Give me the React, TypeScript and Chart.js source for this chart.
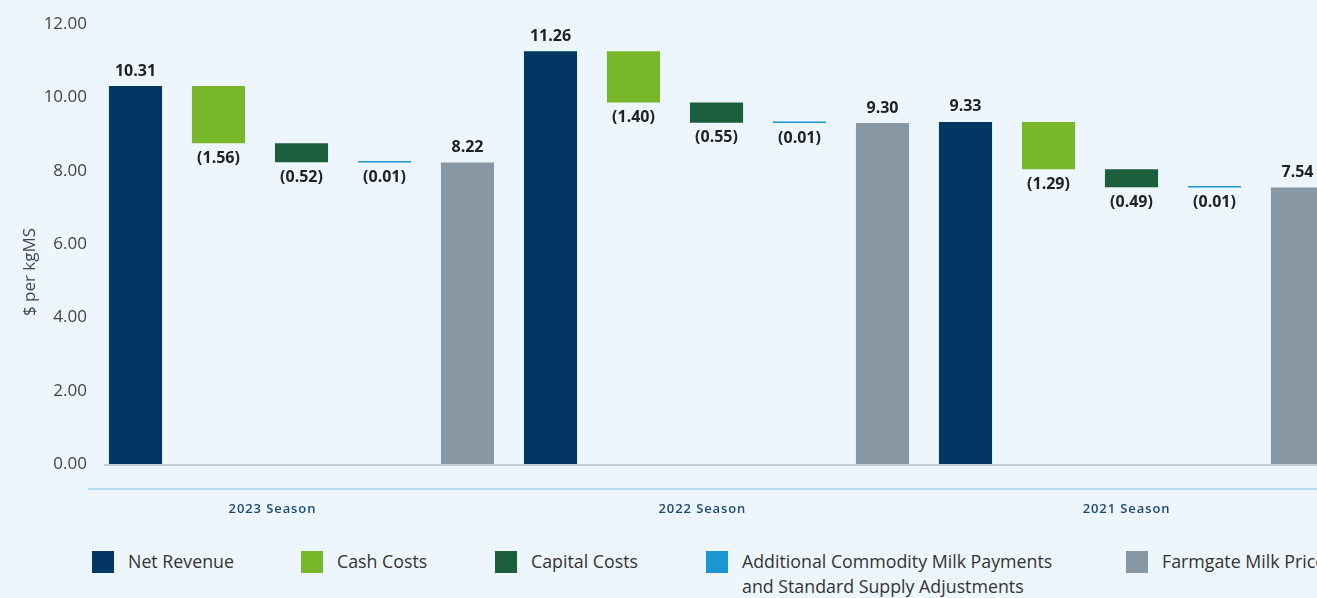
import React, { useEffect, useRef } from "react";
import { Chart, registerables } from "chart.js";

Chart.register(...registerables);

const seasons = ["2023 Season", "2022 Season", "2021 Season"];
const components = [
  "Net Revenue",
  "Cash Costs",
  "Capital Costs",
  "Additional Commodity Milk Payments\nand Standard Supply Adjustments",
  "Farmgate Milk Price",
];
const netRevenue = [10.31, 11.26, 9.33];
const cashCosts = [-1.56, -1.4, -1.29];
const capitalCosts = [-0.52, -0.55, -0.49];
const additionalPayments = [-0.01, -0.01, -0.01];
const farmgateMilkPrice = [8.22, 9.3, 7.54];
const yTicks = [0, 2, 4, 6, 8, 10, 12];

const colors = ["#023764", "#78b72a", "#1b5e3b", "#1b96d2", "#8798a4"];
const FONT = "'Open Sans', 'Noto Sans', sans-serif";

type Bar = { label: string; range: [number, number]; value: number; kind: number };

function buildBars(): Bar[] {
  const out: Bar[] = [];
  seasons.forEach((s, i) => {
    let run = netRevenue[i];
    out.push({ label: s + " " + components[0], range: [0, run], value: netRevenue[i], kind: 0 });
    const steps = [cashCosts[i], capitalCosts[i], additionalPayments[i]];
    steps.forEach((v, k) => {
      const next = run + v;
      out.push({ label: s + " " + components[k + 1], range: [run, next], value: v, kind: k + 1 });
      run = next;
    });
    out.push({ label: s + " " + components[4], range: [0, farmgateMilkPrice[i]], value: farmgateMilkPrice[i], kind: 4 });
  });
  return out;
}

const decorPlugin = {
  id: "decor",
  beforeDatasetsDraw(chart: any) {
    const { ctx, chartArea, scales } = chart;
    const y0 = scales.y.getPixelForValue(0);
    ctx.save();
    ctx.strokeStyle = "#c7cdd3";
    ctx.lineWidth = 2;
    ctx.beginPath();
    ctx.moveTo(chartArea.left + 10, y0 + 1);
    ctx.lineTo(chart.width, y0 + 1);
    ctx.stroke();
    ctx.restore();
  },
  afterDraw(chart: any) {
    const { ctx, chartArea, scales } = chart;
    ctx.save();
    // category axis line
    ctx.strokeStyle = "#b5dcf0";
    ctx.lineWidth = 2;
    ctx.beginPath();
    ctx.moveTo(chartArea.left - 6, chartArea.bottom + 25);
    ctx.lineTo(chart.width, chartArea.bottom + 25);
    ctx.stroke();
    // season labels
    const seasonPos = [1.65, 6.83, 11.94];
    ctx.fillStyle = "#1d4a72";
    ctx.font = `600 13px ${FONT}`;
    (ctx as any).letterSpacing = "0.9px";
    ctx.textAlign = "center";
    ctx.textBaseline = "middle";
    seasons.forEach((s, i) => {
      ctx.fillText(s, scales.x.getPixelForValue(seasonPos[i]), chartArea.bottom + 45);
    });
    (ctx as any).letterSpacing = "0px";
    // y title
    ctx.translate(30, 272);
    ctx.rotate(-Math.PI / 2);
    ctx.fillStyle = "#444";
    ctx.font = `17px ${FONT}`;
    ctx.fillText("$ per kgMS", 0, 0);
    ctx.restore();
  },
};

const labelPlugin = {
  id: "barLabels",
  afterDatasetsDraw(chart: any) {
    const { ctx } = chart;
    const bars: Bar[] = chart.config.options.plugins.barLabels.bars;
    const meta = chart.getDatasetMeta(0);
    ctx.save();
    ctx.fillStyle = "#222";
    ctx.font = `bold 16px ${FONT}`;
    ctx.textAlign = "center";
    ctx.textBaseline = "middle";
    meta.data.forEach((el: any, i: number) => {
      const b = bars[i];
      const top = Math.min(el.y, el.base);
      const bottom = Math.max(el.y, el.base);
      if (b.value >= 0) {
        ctx.fillText(b.value.toFixed(2), el.x, top - 15);
      } else {
        ctx.fillText("(" + Math.abs(b.value).toFixed(2) + ")", el.x, bottom + 15);
      }
    });
    ctx.restore();
  },
};

export default function App() {
  const ref = useRef<HTMLCanvasElement>(null);
  useEffect(() => {
    const bars = buildBars();
    const chart = new Chart(ref.current!, {
      type: "bar",
      data: {
        labels: bars.map((b) => b.label),
        datasets: [
          {
            data: bars.map((b) => b.range) as any,
            backgroundColor: bars.map((b) => colors[b.kind]),
            borderWidth: 0,
            categoryPercentage: 1,
            barPercentage: 0.64,
            minBarLength: 1.5,
          },
        ],
      },
      options: {
        animation: false,
        responsive: false,
        layout: { padding: { left: 0, right: 6, top: 24, bottom: 66 } },
        plugins: {
          legend: { display: false },
          tooltip: { enabled: false },
          barLabels: { bars },
        } as any,
        scales: {
          x: { type: "category", display: false, offset: true },
          y: {
            min: 0,
            max: 12,
            afterFit: (s: any) => {
              s.width = 94;
            },
            afterBuildTicks: (s: any) => {
              s.ticks = yTicks.map((v) => ({ value: v }));
            },
            grid: { display: false, drawTicks: false },
            border: { display: false },
            ticks: {
              padding: 7,
              color: "#444",
              font: { family: FONT, size: 17 },
              callback: (v: any) => Number(v).toFixed(2),
            },
          },
        },
      },
      plugins: [decorPlugin, labelPlugin],
    });
    return () => chart.destroy();
  }, []);

  const legendX = [92, 301, 495, 706, 1126];
  return (
    <div
      style={{
        position: "fixed",
        left: 0,
        top: 0,
        width: 1317,
        height: 598,
        overflow: "hidden",
        background: "#eef6fd",
      }}
    >
      <canvas ref={ref} width={1345} height={530} style={{ position: "absolute", left: 0, top: 0 }} />
      {components.map((c, i) => (
        <div
          key={c}
          style={{
            position: "absolute",
            left: legendX[i],
            top: 549,
            display: "flex",
            alignItems: "flex-start",
            whiteSpace: "pre",
          }}
        >
          <div style={{ width: 22, height: 22, marginTop: 2, background: colors[i], flexShrink: 0 }} />
          <div
            style={{
              marginLeft: 14,
              fontFamily: FONT,
              fontSize: 17.8,
              lineHeight: "25px",
              color: "#333",
            }}
          >
            {c}
          </div>
        </div>
      ))}
    </div>
  );
}
